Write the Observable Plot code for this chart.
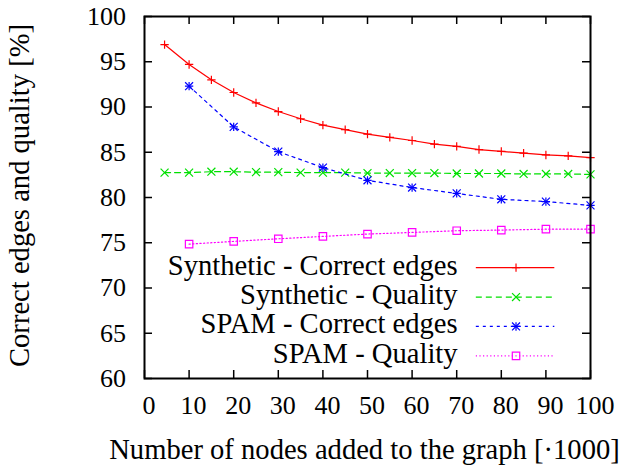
<!DOCTYPE html>
<html><head><meta charset="utf-8">
<script src="https://cdn.jsdelivr.net/npm/d3@7"></script>
<script src="https://cdn.jsdelivr.net/npm/@observablehq/plot@0.6"></script>
<style>body{margin:0;background:#fff}</style>
</head><body><div id="chart"></div>
<script>
// Data (x in thousands of nodes, y in %)
const nodesFine = [4.5,10,15,20,25,30,35,40,45,50,55,60,65,70,75,80,85,90,95,100];
const synthCorrect = [96.9,94.7,93.0,91.6,90.45,89.5,88.7,88.0,87.5,87.0,86.65,86.3,85.9,85.65,85.3,85.1,84.9,84.7,84.6,84.4];
const synthQuality = [82.75,82.75,82.85,82.85,82.8,82.8,82.75,82.75,82.75,82.7,82.7,82.7,82.7,82.65,82.65,82.65,82.6,82.6,82.6,82.55];
const nodesCoarse = [10,20,30,40,50,60,70,80,90,100];
const spamCorrect = [92.3,87.8,85.07,83.3,81.9,81.1,80.45,79.8,79.55,79.13];
const spamQuality = [74.85,75.15,75.44,75.7,75.96,76.14,76.33,76.4,76.5,76.5];
const seriesLabels = ["Synthetic - Correct edges","Synthetic - Quality","SPAM - Correct edges","SPAM - Quality"];
const xTicks = [0,10,20,30,40,50,60,70,80,90,100];
const yTicks = [60,65,70,75,80,85,90,95,100];
const xTitle = "Number of nodes added to the graph [·1000]";
const yTitle = "Correct edges and quality [%]";

// Layout / style
const W = 626, H = 465, mL = 144, mR = 36, mT = 16, mB = 87;
const fw = W - mL - mR, fh = H - mT - mB;
const font = "Liberation Serif";
const textSize = 28.6;
const tickLen = 8;
const legendTextX = 70.2, legendLineX1 = 74.4, legendLineX2 = 92.0, legendMarkX = 83.3;
const legendTop = 72.25, legendStep = 3.25;

const series = [
  {label: seriesLabels[0], x: nodesFine, y: synthCorrect, color: "#ff0000", dash: null, symbols: ["plus"]},
  {label: seriesLabels[1], x: nodesFine, y: synthQuality, color: "#00e000", dash: "6,4", symbols: ["times"]},
  {label: seriesLabels[2], x: nodesCoarse, y: spamCorrect, color: "#0000ff", dash: "3,4", symbols: ["plus","times"]},
  {label: seriesLabels[3], x: nodesCoarse, y: spamQuality, color: "#ff00ff", dash: "1.2,2.4", symbols: ["square"]}
];
const symbolR = {plus: 2.8, times: 3.7, square: 4.2};

const marks = [];
// ticks (inward, mirrored)
marks.push(Plot.tickX(xTicks, {x: d => d, insetTop: fh - tickLen, stroke: "black", strokeWidth: 1.5}));
marks.push(Plot.tickX(xTicks, {x: d => d, insetBottom: fh - tickLen, stroke: "black", strokeWidth: 1.5}));
marks.push(Plot.tickY(yTicks, {y: d => d, insetRight: fw - tickLen, stroke: "black", strokeWidth: 1.5}));
marks.push(Plot.tickY(yTicks, {y: d => d, insetLeft: fw - tickLen, stroke: "black", strokeWidth: 1.5}));
// tick labels
marks.push(Plot.axisX({ticks: xTicks, tickSize: 0, tickPadding: 17, fontSize: 26, dx: 4.5, label: null, tickFormat: d => String(d)}));
marks.push(Plot.axisY({ticks: yTicks, tickSize: 0, tickPadding: 18.5, fontSize: 26, label: null, tickFormat: d => String(d)}));
// axis titles
marks.push(Plot.text([xTitle], {frameAnchor: "bottom", text: d => d, lineAnchor: "bottom", dy: 80.5, dx: -3, fontSize: textSize}));
marks.push(Plot.text([yTitle], {frameAnchor: "left", text: d => d, textAnchor: "middle", rotate: -90, lineAnchor: "bottom", dx: 28.5 - mL, dy: -2, fontSize: textSize}));

series.forEach((s, k) => {
  const idx = d3.range(s.x.length);
  marks.push(Plot.line(idx, {x: i => s.x[i], y: i => s.y[i], stroke: s.color, strokeWidth: 1.2, strokeDasharray: s.dash}));
  s.symbols.forEach(sym => {
    marks.push(Plot.dot(idx, {x: i => s.x[i], y: i => s.y[i], symbol: sym, r: symbolR[sym], stroke: s.color, fill: "none", strokeWidth: 1.2}));
  });
  const ly = legendTop - k * legendStep;
  marks.push(Plot.ruleY([ly], {y: d => d, x1: () => legendLineX1, x2: () => legendLineX2, stroke: s.color, strokeWidth: 1.2, strokeDasharray: s.dash}));
  s.symbols.forEach(sym => {
    marks.push(Plot.dot([ly], {x: () => legendMarkX, y: d => d, symbol: sym, r: symbolR[sym], stroke: s.color, fill: "none", strokeWidth: 1.2}));
  });
  marks.push(Plot.text([s.label], {x: () => legendTextX, y: () => ly, text: d => d, textAnchor: "end", lineAnchor: "bottom", dy: 7, fontSize: textSize}));
});

marks.push(Plot.frame({stroke: "black", strokeWidth: 2}));

const chart = Plot.plot({
  width: W, height: H,
  marginLeft: mL, marginRight: mR, marginTop: mT, marginBottom: mB,
  x: {domain: [0, 100], axis: null},
  y: {domain: [60, 100], axis: null},
  style: {fontFamily: font, color: "black", background: "white"},
  marks
});
document.getElementById("chart").appendChild(chart);
</script>
</body></html>
